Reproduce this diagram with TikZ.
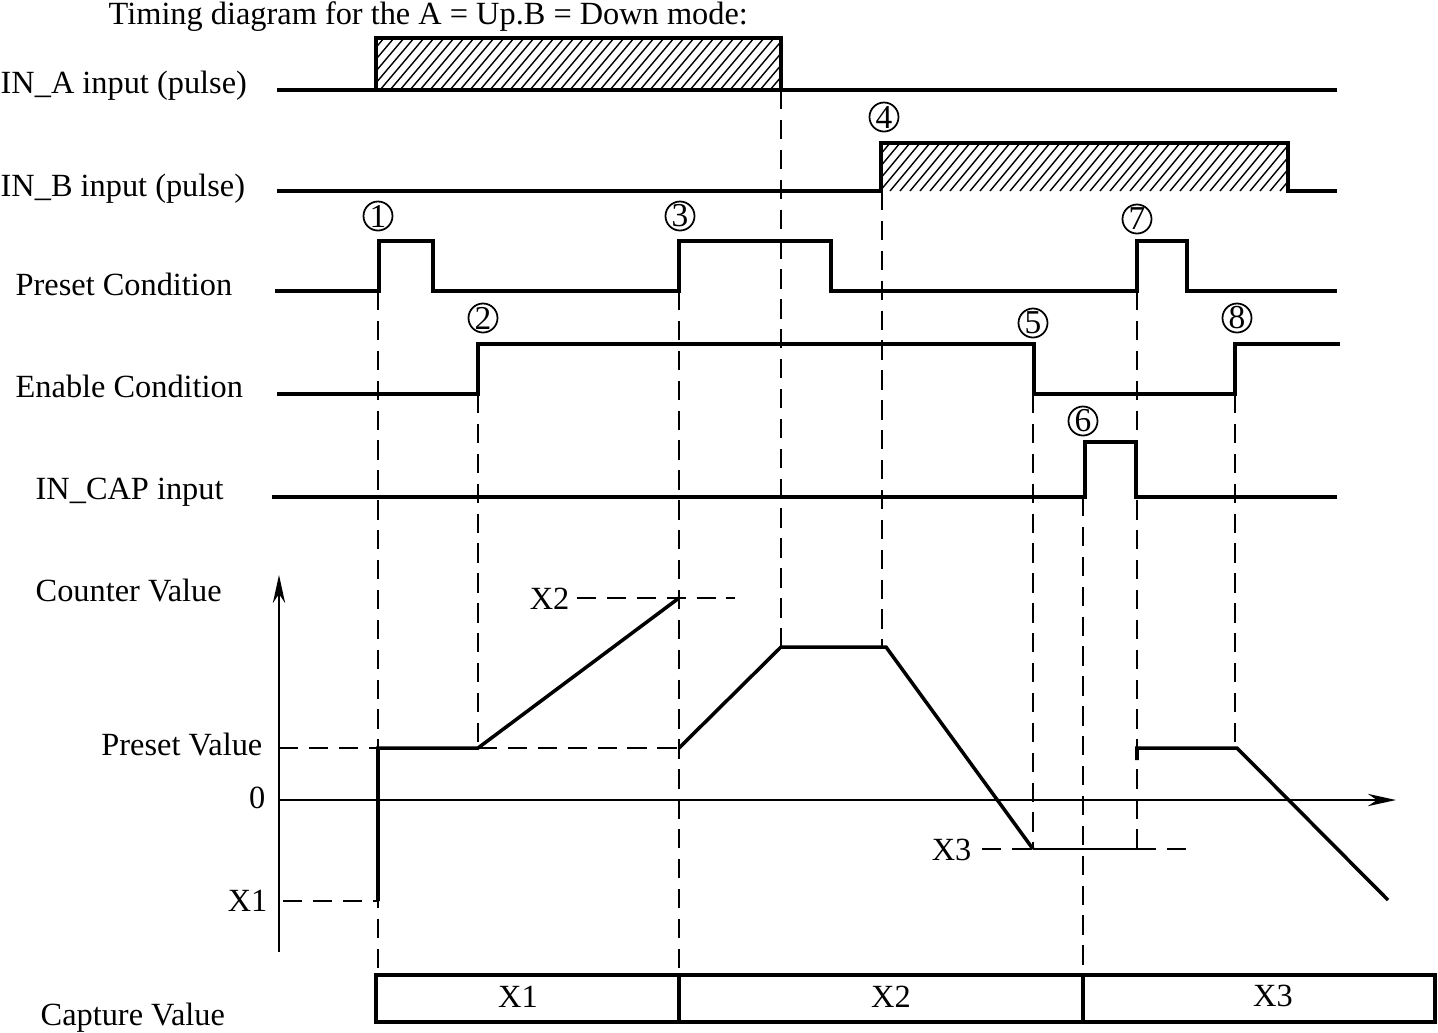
\documentclass[tikz,border=0pt]{standalone}
\usepackage{fontspec}
\setmainfont{Liberation Serif}
\usetikzlibrary{arrows.meta}

\begin{document}
\begin{tikzpicture}[
    x=0.01cm, y=-0.01cm,
    >=Stealth,
    font=\fontsize{9.2}{11}\selectfont,
    sig/.style={line width=1pt, line join=miter},
    dline/.style={line width=0.5pt, dash pattern=on 5.5pt off 3pt},
    hatch/.style={line width=0.4pt},
    lbl/.style={anchor=base west, inner sep=0pt},
    val/.style={anchor=base east, inner sep=0pt},
    num/.style={draw, circle, line width=0.5pt, inner sep=0pt,
                minimum size=0.29cm, font=\fontsize{9.5}{10}\selectfont},
    axis/.style={line width=0.6pt, -{Stealth[length=8pt, width=3.5pt]}},
]
\useasboundingbox (0,0) rectangle (1438,1032);

% ================================================================
%  Labels
% ================================================================

\node[lbl] (title) at (108,24) {Timing diagram for the A = Up.B = Down mode:};
\node[lbl] (ina)     at (0,93)   {IN\_A input (pulse)};
\node[lbl] (inb)     at (0,196)  {IN\_B input (pulse)};
\node[lbl] (preset)  at (15,295) {Preset Condition};
\node[lbl] (enable)  at (15,397) {Enable Condition};
\node[lbl] (incap)   at (35,499) {IN\_CAP input};
\node[lbl] (counter) at (35,601) {Counter Value};
\node[lbl] (capture) at (40,1025) {Capture Value};

\node[val] (pval) at (263,755) {Preset Value};
\node[val] (zero) at (266,808) {0};
\node[val] (xone) at (268,911) {X1};
\node[val] (xtwo) at (570,609) {X2};
\node[val] (xthr) at (972,860) {X3};

% ================================================================
%  Circled event numbers
% ================================================================

\node[num] (n1) at (378,216)  {1};
\node[num] (n2) at (483,318)  {2};
\node[num] (n3) at (680,216)  {3};
\node[num] (n4) at (884,117)  {4};
\node[num] (n5) at (1033,323) {5};
\node[num] (n6) at (1083,421) {6};
\node[num] (n7) at (1137,219) {7};
\node[num] (n8) at (1237,318) {8};

% ================================================================
%  Pulse inputs (hatched)
% ================================================================

\begin{scope}
  \clip (376,38) rectangle (781,90);
  \foreach \x in {330,340,...,790}
    \draw[hatch] (\x,90) -- ++(44,-52);
\end{scope}
\begin{scope}
  \clip (881,143) rectangle (1288,191);
  \foreach \x in {840,850,...,1290}
    \draw[hatch] (\x,191) -- ++(40,-48);
\end{scope}

\draw[sig] (277,90) -- (1337,90);
\draw[sig] (376,90) |- (781,38) -- (781,90);
\draw[sig] (277,191) -- (881,191) |- (1288,143) |- (1337,191);

% ================================================================
%  Conditions and capture input
% ================================================================

\draw[sig] (275,291) -- (379,291) |- (433,241) |- (679,291) |- (831,241)
    |- (1137,291) |- (1187,241) |- (1337,291);
\draw[sig] (277,394) -- (478,394) |- (1034,344) |- (1235,394) |- (1340,344);
\draw[sig] (272,497) -- (1085,497) |- (1136,442) |- (1337,497);

% ================================================================
%  Counter value
% ================================================================

\draw[axis] (279,952) -- (279,575);
\draw[axis] (279,800) -- (1396,800);

\draw[sig] (378,901) -- (378,748) -- (478,748) -- (679,598);
\draw[sig] (679,748) -- (781,647) -- (886,647) -- (1033,849);
\draw[sig] (1137,760) -- (1137,748) -- (1237,748) -- (1388,900);
\draw[line width=0.5pt] (1033,849) -- (1137,849);

% level marks
\draw[dline] (283,901) -- (378,901);
\draw[dline] (279,748) -- (378,748);
\draw[dline] (478,748) -- (679,748);
\draw[dline] (577,598) -- (735,598);
\draw[dline] (982,849) -- (1033,849);
\draw[dline] (1137,849) -- (1187,849);

% event lines
\draw[dline] (378,291) -- (378,975);
\draw[dline] (478,394) -- (478,748);
\draw[dline] (679,291) -- (679,975);
\draw[dline] (781,90)  -- (781,647);
\draw[dline] (882,191) -- (882,647);
\draw[dline] (1033,394) -- (1033,849);
\draw[dline] (1083,497) -- (1083,975);
\draw[dline] (1137,291) -- (1137,849);
\draw[dline] (1235,394) -- (1235,748);

% ================================================================
%  Capture value
% ================================================================

\draw[sig] (376,975) rectangle (1435,1022);
\draw[sig] (679,975) -- (679,1022);
\draw[sig] (1083,975) -- (1083,1022);
\node[anchor=base] (capa) at (518,1007)  {X1};
\node[anchor=base] (capb) at (891,1007)  {X2};
\node[anchor=base] (capc) at (1273,1006) {X3};

\end{tikzpicture}
\end{document}
